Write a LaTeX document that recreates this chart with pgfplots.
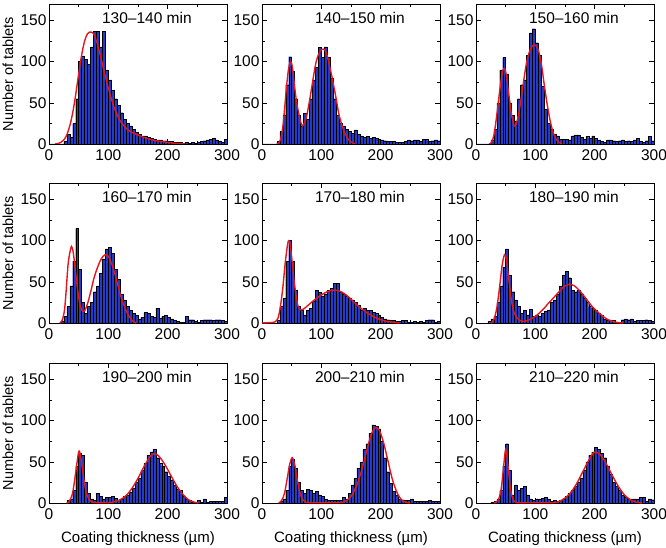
\documentclass[border=0pt]{standalone}
\usepackage{fontspec}
\setmainfont{Liberation Sans}
\usepackage{pgfplots}
\usepackage{pgfplotstable}
\pgfplotsset{compat=1.18}

\definecolor{barblue}{RGB}{38,58,200}
\definecolor{fitred}{RGB}{232,20,30}

% 5 um bins, left edges; columns a..i = the nine time windows
\pgfplotstableread{
x    a   b   c   d   e   f   g   h   i
0    0   0   0   0   0   0   0   0   0
5    0   0   0   0   0   0   0   0   0
10   0   0   0   0   0   0   0   0   0
15   0   0   0   0   0   0   0   0   0
20   0   0   0   2   0   2   0   0   0
25   3   3   5   8   3   5   0   0   1
30   12  15  18  20  20  8   3   2   2
35   8   35  50  45  30  25  5   5   5
40   25  72  90  75  75  45  15  15  15
45   55  106 105 115 100 68  45  45  45
50   100 88  85  65  75  90  60  53  72
55   107 55  50  25  40  58  58  42  40
60   103 35  35  12  20  38  25  25  10
65   97  22  28  20  15  28  12  15  22
70   118 37  55  25  10  20  5   12  15
75   137 30  72  38  15  12  3   17  18
80   137 55  78  45  18  15  12  15  20
85   118 78  108 60  27  10  8   12  10
90   137 93  135 78  40  17  5   14  5
95   90  117 140 90  37  8   7   10  3
100  78  105 123 92  33  10  7   8   5
105  65  118 108 85  35  8   8   5   5
110  55  105 70  65  40  12  6   3   6
115  47  80  42  53  42  14  3   3   7
120  38  55  25  35  48  16  5   3   5
125  30  35  18  28  48  25  8   3   2
130  25  25  12  20  38  28  10  3   3
135  22  22  10  15  35  35  13  7   2
140  18  18  6   12  33  45  18  5   3
145  14  15  6   9   30  58  25  12  5
150  12  13  6   5   28  63  30  22  8
155  10  17  5   7   25  55  40  30  12
160  10  12  10  13  22  40  48  42  15
165  8   10  11  12  15  38  58  50  20
170  7   8   11  8   18  40  62  65  25
175  6   9   8   7   15  35  65  72  30
180  5   7   6   18  15  30  55  85  40
185  5   8   9   6   13  25  48  95  50
190  4   7   7   8   12  20  45  93  58
195  4   6   10  9   10  18  38  90  62
200  3   5   7   7   7   15  32  75  68
205  3   4   5   5   5   12  28  55  65
210  2   3   3   3   4   10  22  38  60
215  2   3   2   2   3   5   17  24  55
220  2   3   5   1   3   4   15  14  45
225  1   2   5   1   2   3   8   10  35
230  2   2   4   8   2   3   5   5   25
235  1   2   3   4   3   1   3   4   20
240  2   3   4   4   3   1   1   3   15
245  1   5   5   2   1   4   1   3   10
250  2   4   3   1   1   5   3   5   7
255  3   5   4   3   2   4   1   2   5
260  4   5   3   4   1   5   5   2   5
265  5   3   5   4   2   2   1   2   5
270  6   6   7   4   1   3   2   2   5
275  7   6   3   3   3   3   2   2   7
280  5   3   2   4   4   3   2   3   7
285  3   4   4   4   4   4   2   2   2
290  2   5   9   3   1   3   2   2   5
295  6   4   4   2   2   2   7   2   4
300  6   4   4   2   2   2   7   2   4
}\hist

\newcommand{\tck}{\fontsize{15.5}{18}\selectfont}
\newcommand{\ttl}{\fontsize{15.5}{18}\selectfont}
\newcommand{\lbl}{\fontsize{15}{18}\selectfont}

\pgfplotsset{
  panel/.style={
    scale only axis, width=178pt, height=140pt, anchor=south west,
    xmin=0, xmax=300, ymin=0, ymax=170,
    xtick={0,100,200,300}, ytick={0,50,100,150}, minor tick num=1,
    tick align=inside,
    /pgf/number format/assume math mode=true,
    tick label style={font=\tck},
    xticklabel style={yshift=-2pt},
    yticklabel style={xshift=1pt},
    label style={font=\lbl},
    axis line style={line width=0.8pt},
    major tick length=5pt, minor tick length=3pt,
    every tick/.style={black, line width=0.6pt},
  },
  ylab/.style={ylabel={Number of tablets},
    ylabel style={at={(axis description cs:-0.23,0.5)}, anchor=center, font=\fontsize{14.5}{17}\selectfont}},
  xlab/.style={xlabel={Coating thickness (µm)},
    xlabel style={at={(axis description cs:0.5,-0.255)}, anchor=center}},
  hist/.style={ybar interval, fill=barblue, draw=black, line width=0.4pt},
  fit/.style={fitred, line width=1.4pt, smooth},
}

\begin{document}
\begin{tikzpicture}
\useasboundingbox (0pt,0pt) rectangle (666pt,547pt);

% row 1
\begin{axis}[panel, ylab, at={(49pt,403pt)}]
\addplot[hist] table[x=x,y=a] {\hist};
\addplot[fit] coordinates {(10,0)(15,0.5)(20,2)(25,5)(30,11)(35,22)(40,38)(45,60)(50,85)(55,108)(60,125)(65,134)(70,136)(75,134)(80,125)(85,112)(90,97)(95,82)(100,68)(105,55)(110,44)(115,35)(120,28)(130,19)(140,14)(150,11)(160,8)(170,6)(180,4)(190,3)(200,2)(210,1)(220,0.3)(230,0)};
\node[font=\ttl] at (rel axis cs:0.55,0.9) {130–140 min};
\end{axis}

\begin{axis}[panel, at={(262pt,403pt)}]
\addplot[hist] table[x=x,y=b] {\hist};
\addplot[fit] coordinates {(25,0)(27,0.5)(31,5)(35,20)(38,42)(41,67)(44.5,90)(48,100)(51,94)(55,69)(58.5,50)(62,37)(65,27)(68,22)(71,25)(75,33)(79,48)(83,65)(87,83)(91,99)(96,110)(101,115)(106,114)(110,107)(114,94)(117,85)(121,70)(125,55)(129,38)(133,27)(137,18)(141,11)(145,6)(149,3)(153,1)(157,0)};
\node[font=\ttl] at (rel axis cs:0.55,0.9) {140–150 min};
\end{axis}

\begin{axis}[panel, at={(476pt,403pt)}]
\addplot[hist] table[x=x,y=c] {\hist};
\addplot[fit] coordinates {(22,0)(25,1)(30,10)(35,35)(40,65)(44,85)(47,92)(50,88)(55,62)(60,35)(65,22)(70,30)(75,50)(80,75)(85,98)(90,112)(95,119)(100,120)(105,114)(110,98)(115,72)(120,48)(125,28)(130,14)(135,6)(140,2)(145,0)};
\node[font=\ttl] at (rel axis cs:0.55,0.9) {150–160 min};
\end{axis}

% row 2
\begin{axis}[panel, ylab, at={(49pt,224pt)}]
\addplot[hist] table[x=x,y=d] {\hist};
\addplot[fit] coordinates {(18,0)(22,3)(26,15)(29,40)(32,70)(35,85)(38,93)(41,85)(45,60)(49,36)(53,20)(57,14)(61,16)(66,26)(71,40)(76,55)(81,66)(86,75)(91,81)(95,83)(100,81)(104,75)(108,67)(112,57)(116,46)(120,35)(125,24)(130,15)(135,8)(140,3)(147,0)};
\node[font=\ttl] at (rel axis cs:0.55,0.9) {160–170 min};
\end{axis}

\begin{axis}[panel, at={(262pt,224pt)}]
\addplot[hist] table[x=x,y=e] {\hist};
\addplot[fit] coordinates {(0,0)(15,0.5)(22,1.5)(27,6)(31,20)(35,42)(39,72)(43,95)(45,100)(47,97)(50,80)(53,58)(57,35)(61,20)(65,16)(70,17)(80,23)(90,29)(100,34)(110,38)(120,40)(130,39)(140,35)(150,29)(160,22)(170,16)(180,11)(190,7)(200,4)(210,2)(220,1)(232,0)};
\node[font=\ttl] at (rel axis cs:0.55,0.9) {170–180 min};
\end{axis}

\begin{axis}[panel, at={(476pt,224pt)}]
\addplot[hist] table[x=x,y=f] {\hist};
\addplot[fit] coordinates {(25,0)(30,4)(35,18)(40,45)(44,70)(48,83)(51,78)(55,55)(60,26)(65,11)(72,4)(80,2)(90,4)(100,8)(108,13)(115,18)(122,24)(130,30)(140,38)(150,45)(158,47)(166,45)(175,39)(186,29)(197,19)(209,11)(220,5)(230,2)(240,0.5)(248,0)};
\node[font=\ttl] at (rel axis cs:0.55,0.9) {180–190 min};
\end{axis}

% row 3
\begin{axis}[panel, ylab, xlab, at={(49pt,44pt)}]
\addplot[hist] table[x=x,y=g] {\hist};
\addplot[fit] coordinates {(30,0)(35,3)(40,13)(45,37)(50,62)(53,58)(57,38)(62,15)(67,5)(72,1.5)(80,0.5)(100,0.5)(110,1.5)(120,4)(130,9)(140,18)(150,30)(160,44)(170,56)(177,60)(185,57)(195,47)(205,34)(215,21)(225,11)(235,4)(245,1)(252,0)};
\node[font=\ttl] at (rel axis cs:0.55,0.9) {190–200 min};
\end{axis}

\begin{axis}[panel, xlab, at={(262pt,44pt)}]
\addplot[hist] table[x=x,y=h] {\hist};
\addplot[fit] coordinates {(28,0)(33,3)(38,12)(43,32)(47,48)(51,55)(55,47)(59,30)(63,15)(67,6)(72,2)(80,0.5)(130,0.5)(140,2)(150,8)(160,22)(170,45)(178,68)(185,85)(192,92)(198,88)(205,73)(212,52)(220,28)(228,12)(235,4)(242,1)(250,0)};
\node[font=\ttl] at (rel axis cs:0.55,0.9) {200–210 min};
\end{axis}

\begin{axis}[panel, xlab, at={(476pt,44pt)}]
\addplot[hist] table[x=x,y=i] {\hist};
\addplot[fit] coordinates {(30,0)(37,3)(42,15)(46,40)(50,65)(54,45)(58,18)(62,5)(67,1)(75,0.3)(130,0.5)(140,2)(150,6)(160,13)(170,24)(180,38)(190,52)(197,60)(202,62)(210,58)(220,47)(230,33)(240,20)(250,10)(260,4)(270,1)(280,0)};
\node[font=\ttl] at (rel axis cs:0.55,0.9) {210–220 min};
\end{axis}
\end{tikzpicture}
\end{document}
